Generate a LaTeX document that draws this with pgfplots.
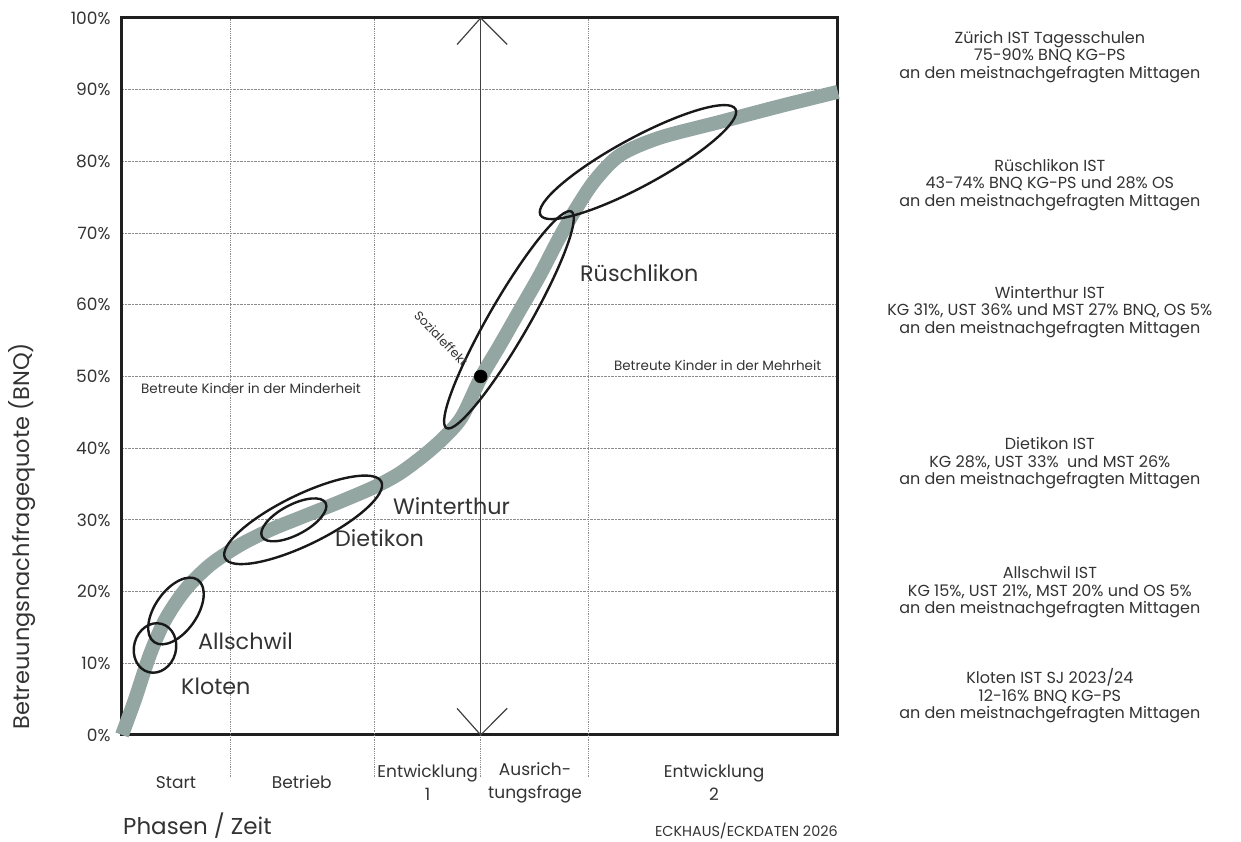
\documentclass[border=0pt]{standalone}
\usepackage{fontspec}
\setmainfont{Poppins}
\usepackage{pgfplots}
\pgfplotsset{compat=1.18}
\usetikzlibrary{shapes.geometric}
\definecolor{curve}{HTML}{93A6A1}
\definecolor{txt}{HTML}{333333}
\definecolor{gridc}{HTML}{8C8C8C}

\begin{document}
\begin{tikzpicture}
\begin{axis}[
  scale only axis, x=7.16pt, y=7.17pt,
  xmin=0, xmax=100, ymin=0, ymax=100,
  axis line style={line width=3pt, black!88},
  ytick={0,10,20,30,40,50,60,70,80,90,100},
  yticklabels={0\%,10\%,20\%,30\%,40\%,50\%,60\%,70\%,80\%,90\%,100\%},
  xtick=\empty,
  ymajorgrids, grid style={densely dotted, gridc, line width=0.8pt},
  major tick length=0pt,
  yticklabel style={font=\fontsize{17}{19}\selectfont, text=txt, xshift=-8pt},
  clip=false,
]
% phase separators (dotted, running below the axis)
\foreach \xx in {15.1,35.3,50.1,65.1}{
  \edef\tmp{\noexpand\draw[densely dotted, gridc, line width=0.8pt] (axis cs:\xx,-5.9) -- (axis cs:\xx,100);}
  \tmp
}
% middle line with open arrow heads
\draw[black!75, line width=1.2pt] (axis cs:50.1,0) -- (axis cs:50.1,100);
\draw[black!75, line width=1.2pt] (axis cs:46.8,96.3) -- (axis cs:50.1,100) -- (axis cs:53.8,96.3);
\draw[black!75, line width=1.2pt] (axis cs:46.8,3.7) -- (axis cs:50.1,0) -- (axis cs:53.8,3.7);

% curve
\addplot[curve, line width=14pt, smooth, tension=0.5, line cap=butt] coordinates {
  (0,0) (1.8,4.9) (3.9,11.2) (6.0,16.0) (8.8,20.2) (12.3,23.7) (16.5,26.5)
  (20.7,28.6) (24.9,30.3) (30.4,32.5) (35.3,34.6) (38.8,36.5) (42.3,39.1)
  (45.1,41.6) (47.5,44.4) (50.1,49.8) (52.8,54.4) (55.6,59.3) (58.4,64.2)
  (60.9,69.0) (63.3,73.2) (66.1,77.4) (69.6,80.9) (75.1,83.3) (83.5,85.5)
  (91.9,87.7) (100,89.7)
};
% tipping point
\addplot[only marks, mark=*, mark size=6.5pt, black] coordinates {(50.1,50)};

% ellipses
\tikzset{ell/.style={draw=black!90, ellipse, line width=2.4pt, inner sep=0pt}}
\node[ell, minimum width=50pt, minimum height=42pt, rotate=75] at (axis cs:4.61,12.13) {};
\node[ell, minimum width=76pt, minimum height=42pt, rotate=55] at (axis cs:7.54,17.29) {};
\node[ell, minimum width=72pt, minimum height=30pt, rotate=28] at (axis cs:24.0,30.0) {};
\node[ell, minimum width=174pt, minimum height=50pt, rotate=26] at (axis cs:25.3,30.0) {};
\node[ell, minimum width=250pt, minimum height=40pt, rotate=60] at (axis cs:54.05,57.9) {};
\node[ell, minimum width=222pt, minimum height=48pt, rotate=28.5] at (axis cs:72.07,79.9) {};

% labels in the plot
\tikzset{big/.style={font=\fontsize{22.3}{25}\selectfont, text=txt, anchor=west, inner sep=0pt}}
\node[big] at (axis cs:63.97,64.4) {Rüschlikon};
\node[big] at (axis cs:37.85,31.9) {Winterthur};
\node[big] at (axis cs:29.75,27.5) {Dietikon};
\node[big] at (axis cs:10.6,13.1) {Allschwil};
\node[big] at (axis cs:8.24,6.83) {Kloten};
\node[font=\fontsize{13.5}{15}\selectfont, text=txt, anchor=west, inner sep=0pt] at (axis cs:2.65,48.4) {Betreute Kinder in der Minderheit};
\node[font=\fontsize{13.5}{15}\selectfont, text=txt, anchor=west, inner sep=0pt] at (axis cs:68.7,51.5) {Betreute Kinder in der Mehrheit};
\node[font=\fontsize{12.5}{14}\selectfont, text=txt, rotate=-46, inner sep=0pt] at (axis cs:44.6,55.3) {Sozialeffekt};

% y label
\node[font=\fontsize{22.5}{25}\selectfont, text=txt, rotate=90, inner sep=0pt] at (axis cs:-13.97,27.75) {Betreuungsnachfragequote (BNQ)};

% phases
\tikzset{ph/.style={font=\fontsize{17}{23}\selectfont, text=txt, align=center, inner sep=0pt}}
\node[ph] at (axis cs:7.54,-6.6) {Start};
\node[ph] at (axis cs:25.1,-6.6) {Betrieb};
\node[ph] at (axis cs:42.7,-6.7) {Entwicklung\\1};
\node[ph] at (axis cs:57.7,-6.7) {Ausrich-\\tungsfrage};
\node[ph] at (axis cs:82.7,-6.7) {Entwicklung\\2};
\node[font=\fontsize{23}{26}\selectfont, text=txt, anchor=west, inner sep=0pt] at (axis cs:0.14,-12.7) {Phasen / Zeit};
\node[font=\fontsize{14.4}{16}\selectfont, text=txt, anchor=east, inner sep=0pt] at (axis cs:100,-13.4) {ECKHAUS/ECKDATEN 2026};

% right-hand notes
\tikzset{note/.style={font=\fontsize{16}{17.5}\selectfont, text=txt, align=center, inner sep=0pt}}
\node[note] at (axis cs:129.6,94.56) {Zürich IST Tagesschulen\\75-90\% BNQ KG-PS\\an den meistnachgefragten Mittagen};
\node[note] at (axis cs:129.6,76.7) {Rüschlikon IST\\43-74\% BNQ KG-PS und 28\% OS\\an den meistnachgefragten Mittagen};
\node[note] at (axis cs:129.6,59.0) {Winterthur IST\\KG 31\%, UST 36\% und MST 27\% BNQ, OS 5\%\\an den meistnachgefragten Mittagen};
\node[note] at (axis cs:129.6,37.9) {Dietikon IST\\KG 28\%, UST 33\%~ und MST 26\%\\an den meistnachgefragten Mittagen};
\node[note] at (axis cs:129.6,19.9) {Allschwil IST\\KG 15\%, UST 21\%, MST 20\% und OS 5\%\\an den meistnachgefragten Mittagen};
\node[note] at (axis cs:129.6,5.44) {Kloten IST SJ 2023/24\\12-16\% BNQ KG-PS\\an den meistnachgefragten Mittagen};

\coordinate (bl) at (axis cs:-17.04,-14.92);
\coordinate (tr) at (axis cs:156.3,102.51);
\end{axis}
\pgfresetboundingbox
\path (bl) rectangle (tr);
\end{tikzpicture}
\end{document}
